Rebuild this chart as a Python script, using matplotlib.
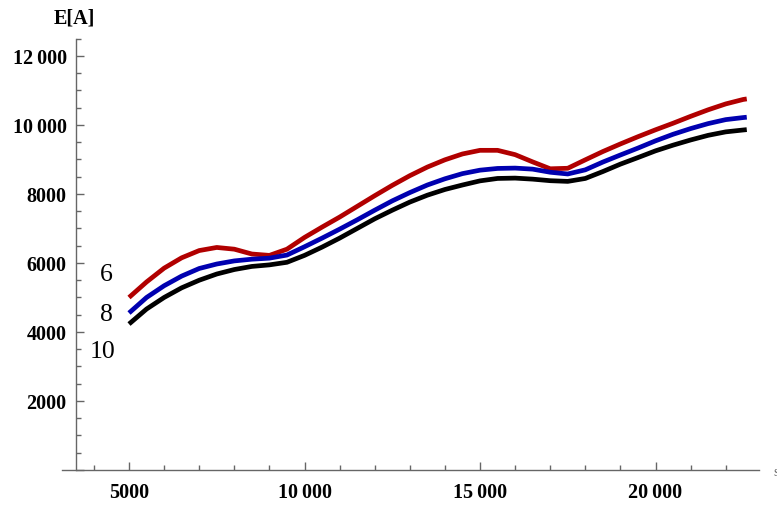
import matplotlib
matplotlib.use("Agg")
import matplotlib.pyplot as plt
from matplotlib.ticker import MultipleLocator, FuncFormatter

# values
x_vals = [5000, 5500, 6000, 6500, 7000, 7500, 8000, 8500, 9000, 9500,
          10000, 10500, 11000, 11500, 12000, 12500, 13000, 13500, 14000, 14500,
          15000, 15500, 16000, 16500, 17000, 17500, 18000, 18500, 19000, 19500,
          20000, 20500, 21000, 21500, 22000, 22500, 22600]

e_6 = [5000, 5450, 5850, 6150, 6360, 6450, 6400, 6260, 6220, 6400,
       6740, 7040, 7330, 7640, 7950, 8250, 8530, 8780, 8990, 9160,
       9265, 9265, 9140, 8930, 8730, 8745, 8990, 9230, 9450, 9660,
       9860, 10050, 10250, 10440, 10610, 10740, 10755]

e_8 = [4550, 5000, 5340, 5620, 5840, 5970, 6060, 6110, 6140, 6230,
       6470, 6720, 6980, 7250, 7530, 7800, 8040, 8260, 8440, 8590,
       8690, 8740, 8750, 8720, 8630, 8580, 8700, 8925, 9130, 9330,
       9540, 9730, 9895, 10040, 10155, 10215, 10225]

e_10 = [4230, 4665, 5000, 5280, 5500, 5680, 5810, 5900, 5945, 6020,
        6220, 6460, 6720, 7000, 7280, 7530, 7765, 7965, 8130, 8260,
        8380, 8450, 8460, 8430, 8385, 8365, 8450, 8650, 8865, 9055,
        9250, 9415, 9565, 9700, 9800, 9855, 9865]

curve_labels = ["6", "8", "10"]
curve_colors = ["#b10000", "#0000b0", "#000000"]

plt.rcParams['font.family'] = ['Liberation Serif', 'DejaVu Serif']

fig = plt.figure(figsize=(7.77, 5.06), dpi=100)
ax = fig.add_axes([0.0802, 0.0692, 0.8967, 0.8523])

for ys, col in zip([e_6, e_8, e_10], curve_colors):
    ax.plot(x_vals, ys, color=col, linewidth=3.4,
            solid_capstyle='butt', solid_joinstyle='round')

# labels at the left end of the curves
label_pos = [(4345, 5680), (4345, 4520), (4250, 3460)]
for lab, (lx, ly) in zip(curve_labels, label_pos):
    ax.text(lx, ly, lab, fontsize=18.5, ha='center', va='center')

ax.set_xlim(3100, 22950)
ax.set_ylim(0, 12500)

# Mathematica style axes
ax.spines['top'].set_visible(False)
ax.spines['right'].set_visible(False)
ax.spines['left'].set_position(('data', 3500))
ax.spines['bottom'].set_position(('data', 0))
for s in ['left', 'bottom']:
    ax.spines[s].set_color('#666666')
    ax.spines[s].set_linewidth(1.0)

ax.xaxis.set_major_locator(MultipleLocator(5000))
ax.xaxis.set_minor_locator(MultipleLocator(1000))
ax.yaxis.set_major_locator(MultipleLocator(2000))
ax.yaxis.set_minor_locator(MultipleLocator(500))


def fmt(v, pos):
    v = int(round(v))
    if v <= 0:
        return ""
    if v >= 10000:
        return f"{v // 1000}\u2009{v % 1000:03d}"
    return str(v)


ax.xaxis.set_major_formatter(FuncFormatter(fmt))
ax.yaxis.set_major_formatter(FuncFormatter(fmt))

ax.tick_params(which='both', direction='in', color='#666666', width=1.0)
ax.tick_params(which='major', length=5.5)
ax.tick_params(which='minor', length=3.5)
ax.tick_params(axis='x', which='major', pad=9)
ax.tick_params(axis='y', which='major', pad=7)
for lab in ax.get_xticklabels() + ax.get_yticklabels():
    lab.set_fontweight('bold')
    lab.set_fontsize(14.5)

fig.text(74 / 777, 1 - 18 / 506, "E[A]", fontsize=14.5, fontweight='bold',
         ha='center', va='center')
fig.text(773 / 777, 1 - 472 / 506, "s", fontsize=10, color='#666666',
         ha='left', va='center')

fig.savefig("out.png", dpi=100)
